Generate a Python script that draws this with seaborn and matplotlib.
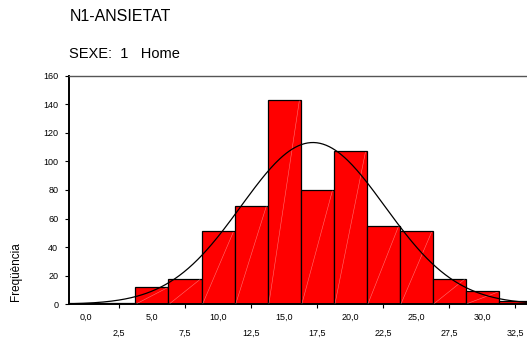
import numpy as np
import matplotlib
matplotlib.use("Agg")
import matplotlib.pyplot as plt
import seaborn as sns

# bin midpoints (width 2,5) and counts
centers = [0.0, 2.5, 5.0, 7.5, 10.0, 12.5, 15.0, 17.5, 20.0, 22.5, 25.0, 27.5, 30.0, 32.5]
counts = [1, 1, 12, 18, 51, 69, 143, 80, 107, 55, 51, 18, 9, 2]
top_labels = ["0,0", "5,0", "10,0", "15,0", "20,0", "25,0", "30,0"]
bottom_labels = ["2,5", "7,5", "12,5", "17,5", "22,5", "27,5", "32,5"]
yticks = [0, 20, 40, 60, 80, 100, 120, 140, 160]

sns.set_style("white")
plt.rcParams["font.family"] = ["Liberation Sans", "DejaVu Sans"]
plt.rcParams["text.color"] = "black"
plt.rcParams["xtick.color"] = "black"
plt.rcParams["ytick.color"] = "black"

fig = plt.figure(figsize=(5.27, 3.40), dpi=100)
ax = fig.add_axes([0.1315, 0.105, 0.878, 0.6724])

bw = 2.5
sns.histplot(x=centers, weights=counts, binwidth=bw,
             binrange=(centers[0] - bw / 2, centers[-1] + bw / 2),
             color="#ff0000", edgecolor="black", linewidth=0.9, alpha=1, ax=ax)

# faint diagonal streaks inside each bar (SPSS rendering)
for p in ax.patches:
    h = p.get_height()
    if h > 5:
        x0 = p.get_x()
        ax.plot([x0 + 0.1, x0 + p.get_width() - 0.1], [0.5, h - 0.5],
                color="white", alpha=0.45, lw=0.4, zorder=3)

# normal curve fitted to the grouped data
c = np.array(centers)
n = np.array(counts)
N = n.sum()
mu = (c * n).sum() / N
sd = np.sqrt(((c - mu) ** 2 * n).sum() / (N - 1))
xs = np.linspace(c[0] - bw / 2, c[-1] + bw / 2, 300)
ys = N * bw * np.exp(-0.5 * ((xs - mu) / sd) ** 2) / (sd * np.sqrt(2 * np.pi))
sns.lineplot(x=xs, y=ys, color="black", lw=0.9, ax=ax, zorder=4)

ax.set_xlim(c[0] - bw / 2, c[-1] + bw / 2)
ax.set_ylim(0, 160)
ax.set_yticks(yticks)
ax.tick_params(axis="y", labelsize=6.5, length=3, width=0.8, pad=5, left=True)

ax.set_xticks(c[0::2], labels=top_labels)
ax.set_xticks(c[1::2], labels=bottom_labels, minor=True)
ax.tick_params(axis="x", which="major", labelsize=6.5, length=0, pad=6)
ax.tick_params(axis="x", which="minor", labelsize=6.5, length=3, width=0.8, pad=15, bottom=True)

ax.set_xlabel("")
ax.set_ylabel("")
for s in ["left", "bottom"]:
    ax.spines[s].set_color("black")
    ax.spines[s].set_linewidth(1.4)
ax.spines["top"].set_color("#555555")
ax.spines["top"].set_linewidth(1.0)
ax.spines["right"].set_visible(False)

fig.text(0.1315, 0.951, "N1-ANSIETAT", fontsize=11.5, ha="left", va="center")
fig.text(0.1315, 0.841, "SEXE:  1   Home", fontsize=10.5, ha="left", va="center")
fig.text(0.030, 0.2, "Freqüència", fontsize=8.5, rotation=90, ha="center", va="center")

fig.savefig("out.png", dpi=100)
